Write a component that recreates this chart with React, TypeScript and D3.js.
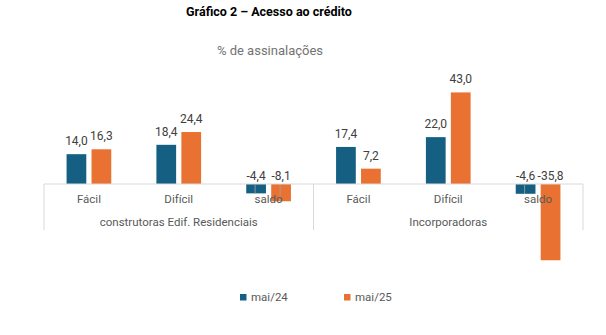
import React from "react";
import * as d3 from "d3";

const groups = ["construtoras Edif. Residenciais", "Incorporadoras"];
const categories = ["Fácil", "Difícil", "saldo"];
const seriesNames = ["mai/24", "mai/25"];
const mai24 = [14.0, 18.4, -4.4, 17.4, 22.0, -4.6];
const mai25 = [16.3, 24.4, -8.1, 7.2, 43.0, -35.8];
const colors = ["#156082", "#E97132"];

const W = 606;
const H = 335;
const FONT = "Roboto, 'Open Sans', sans-serif";

export default function App() {
  const left = 44;
  const right = 583;
  const zeroY = 184;
  const pxPerUnit = 2.13;
  const y = d3.scaleLinear().domain([-40, 45]).range([zeroY + 40 * pxPerUnit, zeroY - 45 * pxPerUnit]);
  const keys = d3.range(6).map(String);
  const x0 = d3.scaleBand<string>().domain(keys).range([left, right]).paddingInner(0);
  const bw = x0.bandwidth();
  const x1 = d3.scaleBand<string>().domain(seriesNames).range([0, 44.7]).paddingInner(0.21);
  const groupX = d3.scaleBand<string>().domain(groups).range([left, right]);
  const fmt = (v: number) => v.toFixed(1).replace(".", ",");
  const series = [mai24, mai25];

  return (
    <svg width={W} height={H} style={{ position: "absolute", left: 0, top: 0, background: "#fff" }} fontFamily={FONT}>
      <rect x={0} y={0} width={W} height={H} fill="#fff" />
      <text x={269} y={16} textAnchor="middle" fontWeight="bold" fontSize={12.5} fill="#000">
        Gráfico 2 – Acesso ao crédito
      </text>
      <text x={270} y={55} textAnchor="middle" fontSize={13} fill="#737373">
        % de assinalações
      </text>
      {/* bars */}
      {keys.map((k, i) =>
        series.map((vals, s) => {
          const v = vals[i];
          const bx = (x0(k) as number) + bw / 2 - 22.35 + (x1(seriesNames[s]) as number);
          const top = Math.min(y(v), y(0));
          const h = Math.abs(y(v) - y(0));
          return <rect key={k + "-" + s} x={bx} y={top} width={x1.bandwidth()} height={h} fill={colors[s]} />;
        })
      )}
      {/* axis */}
      <line x1={left} x2={right} y1={y(0)} y2={y(0)} stroke="#d9d9d9" strokeWidth={1} />
      {[0, 1, 2].map((g) => {
        const gx = left + (g * (right - left)) / 2;
        return <line key={"sep" + g} x1={gx} x2={gx} y1={y(0)} y2={y(0) + 46} stroke="#d9d9d9" strokeWidth={1} />;
      })}
      {/* leader lines for small negatives */}
      {keys.map((k, i) =>
        series.map((vals, s) => {
          const v = vals[i];
          if (v >= 0 || v < -20) return null;
          const cx = (x0(k) as number) + bw / 2 - 22.35 + (x1(seriesNames[s]) as number) + x1.bandwidth() / 2 - 1;
          return (
            <line key={"ld" + k + s} x1={cx} x2={cx} y1={y(0) + 1} y2={y(0) + (s === 0 ? 10 : 17)} stroke="#a6a6a6" strokeWidth={0.8} />
          );
        })
      )}
      {/* data labels */}
      {keys.map((k, i) =>
        series.map((vals, s) => {
          const v = vals[i];
          const cx = (x0(k) as number) + bw / 2 - 22.35 + (x1(seriesNames[s]) as number) + x1.bandwidth() / 2;
          const ty = v >= 0 ? y(v) - 9 : y(0) - 4;
          return (
            <text key={"lb" + k + s} x={cx} y={ty} textAnchor="middle" fontSize={12} fill="#404040">
              {fmt(v)}
            </text>
          );
        })
      )}
      {/* category labels */}
      {keys.map((k, i) => (
        <text key={"cat" + k} x={(x0(k) as number) + bw / 2} y={203} textAnchor="middle" fontSize={11.5} fill="#595959">
          {categories[i % 3]}
        </text>
      ))}
      {groups.map((g) => (
        <text key={g} x={(groupX(g) as number) + groupX.bandwidth() / 2} y={226} textAnchor="middle" fontSize={11.5} fill="#595959">
          {g}
        </text>
      ))}
      {/* legend */}
      {seriesNames.map((n, s) => (
        <g key={n} transform={`translate(${240 + s * 104},0)`}>
          <rect x={0} y={294} width={6.5} height={6.5} fill={colors[s]} />
          <text x={11} y={301} fontSize={11.5} fill="#595959">
            {n}
          </text>
        </g>
      ))}
    </svg>
  );
}
